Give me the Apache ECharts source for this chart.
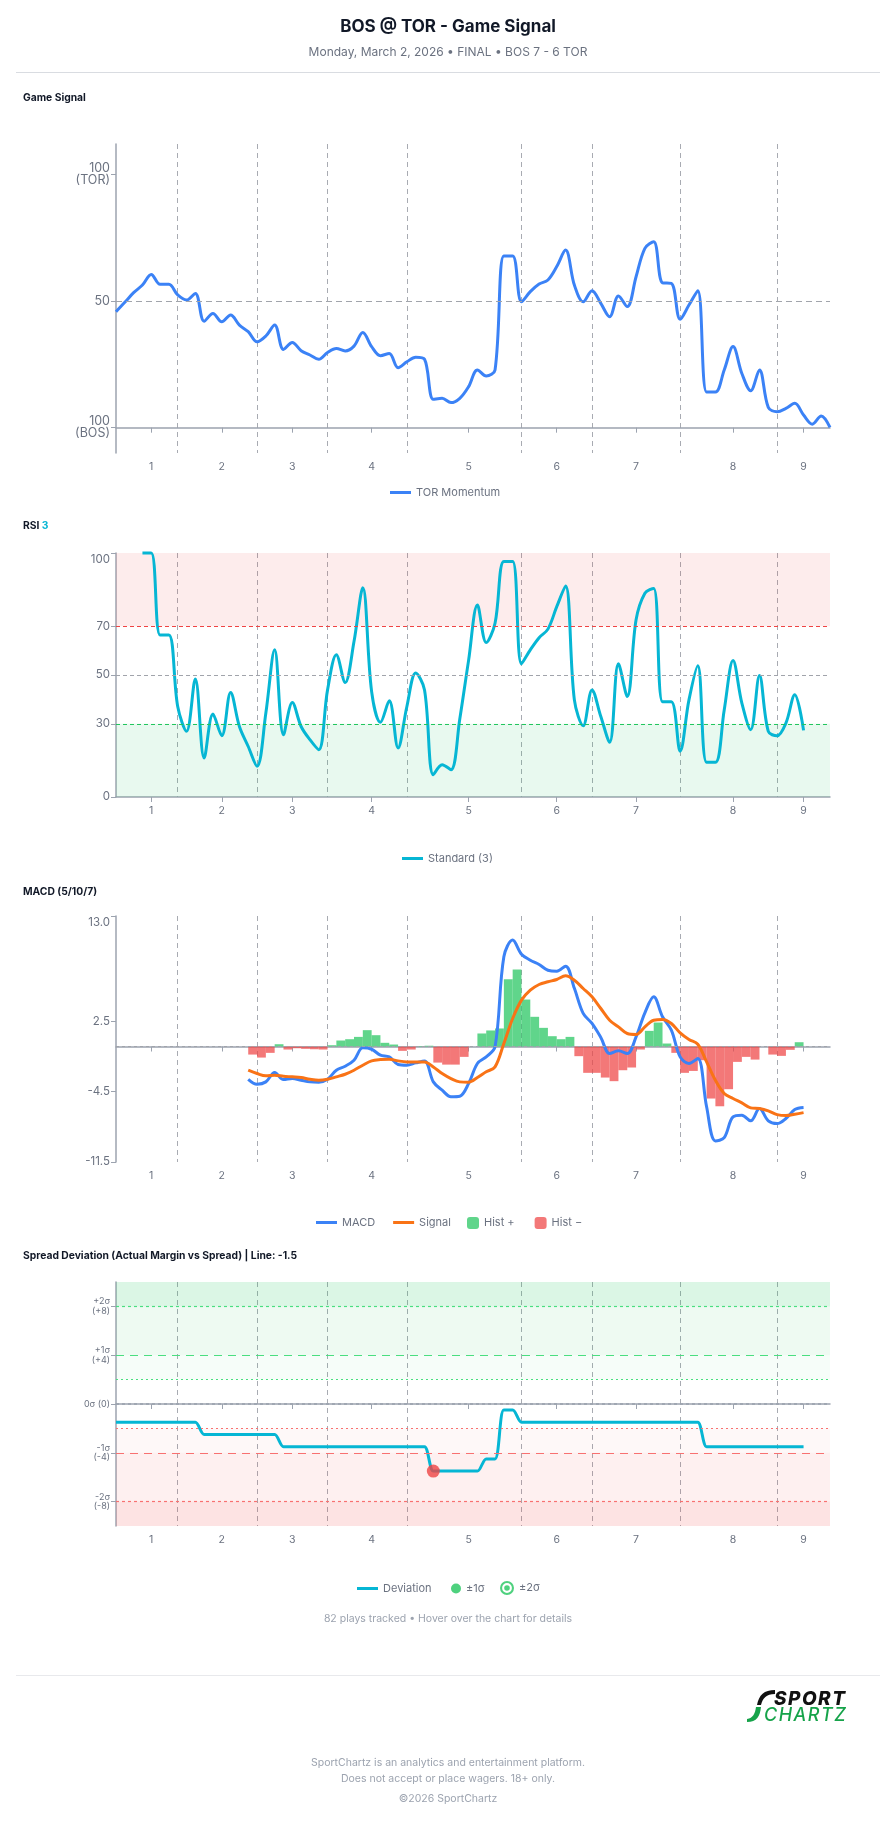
<!DOCTYPE html>
<html>
<head>
<meta charset="utf-8">
<title>BOS @ TOR - Game Signal</title>
<script src="https://cdn.jsdelivr.net/npm/echarts@6/dist/echarts.min.js"></script>
<style>
    body { margin: 0; background: #ffffff; font-family: Inter, 'Noto Sans', sans-serif; }
    #page { position: relative; width: 896px; height: 1824px; overflow: hidden; }
    #chart { position: absolute; left: 0; top: 0; width: 896px; height: 1824px; }
    .center { position: absolute; left: 0; width: 896px; text-align: center; }
    .title { top: 15px; font-size: 17px; line-height: 22px; font-weight: 700; color: #111827; }
    .subtitle { top: 44px; font-size: 12px; line-height: 16px; color: #6b7280; }
    .rule { position: absolute; left: 16px; width: 864px; height: 1px; }
    .note { top: 1611px; font-size: 10.5px; line-height: 16px; color: #9ca3af; }
    .foot { font-size: 10.5px; line-height: 14px; color: #9ca3af; }
    .logo { position: absolute; left: 746px; top: 1689px; width: 124px; height: 36px; }
    .logo svg { position: absolute; left: 0; top: 0; }
    .logo .sport { position: absolute; left: 28px; top: 1px; font-size: 19px; line-height: 18px; font-weight: 800; font-style: italic; color: #111111; letter-spacing: 1.5px; }
    .logo .chartz { position: absolute; left: 18px; top: 17px; font-size: 18px; line-height: 18px; font-weight: 500; font-style: italic; color: #16a34a; letter-spacing: 1.5px; }
</style>
</head>
<body>
<div id="page">
    <div id="chart"></div>
    <div class="center title">BOS @ TOR - Game Signal</div>
    <div class="center subtitle">Monday, March 2, 2026 • FINAL • BOS 7 - 6 TOR</div>
    <div class="rule" style="top:72px;background:#d9dce1"></div>

    <div class="center note">82 plays tracked • Hover over the chart for details</div>
    <div class="rule" style="top:1675px;background:#e8e9ec"></div>
    <div class="logo">
        <svg width="30" height="34" viewBox="0 0 30 34">
            <path d="M29 1 C18 1 13 6 11 16 L15 16 C17 9 20 5 29 5 Z" fill="#111111"/>
            <path d="M10 18 C9 25 7 29 1 30 L1 33 C11 33 14 27 15 18 Z" fill="#16a34a"/>
        </svg>
        <div class="sport">SPORT</div>
        <div class="chartz">CHARTZ</div>
    </div>
    <div class="center foot" style="top:1756px">SportChartz is an analytics and entertainment platform.</div>
    <div class="center foot" style="top:1772px">Does not accept or place wagers. 18+ only.</div>
    <div class="center foot" style="top:1792px">©2026 SportChartz</div>
</div>
<script>
const AXIS_COLOR = '#9ca3af';
const LABEL_COLOR = '#6b7280';
const BLUE = '#3b82f6';
const CYAN = '#06b6d4';
const ORANGE = '#f97316';
const GREEN = '#22c55e';
const RED = '#ef4444';

// x axis: one category per play, innings labelled at their middle play
const PLAY_COUNT = 82;
const PLAYS = Array.from({ length: PLAY_COUNT }, (_, i) => String(i));
const INNING_TICKS = [4, 12, 20, 29, 40, 50, 59, 70, 78];
const INNING_NAMES = ['1', '2', '3', '4', '5', '6', '7', '8', '9'];
const INNING_BREAKS = [7, 16, 24, 33, 46, 54, 64, 75];

// Game signal (0 = BOS 100, 100 = TOR 100)
const momentum = [
    45.8, 49.5, 53.3, 56.3, 60.5, 56.6, 56.6, 52.4, 50.4, 53,
    42, 45.1, 41.8, 44.5, 40.5, 37.9, 33.9, 36.2, 40.5, 30.9,
    33.6, 30.4, 28.7, 27, 29.7, 31.3, 30.3, 32.2, 37.6, 32,
    28.4, 29.3, 23.7, 26, 27.8, 27, 11.2, 11.6, 9.9, 11.6,
    16.2, 22.8, 20.4, 22.8, 67.8, 67.8, 49.7, 53.7, 56.7, 58.3,
    63.6, 70.1, 56.3, 49.7, 54.1, 49.1, 43.8, 52, 47.8, 59.6,
    70.8, 73.4, 57.2, 57, 42.8, 48.4, 54.1, 14.1, 14.1, 22.8,
    32, 21.4, 14.6, 22.8, 8, 6.3, 7.6, 9.6, 5, 1.4,
    4.6, 0.1
];

// RSI(3), starts at play 3
const RSI_START = 3;
const rsiValues = [
    100, 100, 66.4, 66.4, 37.1, 26.9, 48.4, 16, 34, 25.1,
    42.8, 28.9, 20.7, 12.6, 34.4, 60.3, 25.5, 38.7, 28.9, 23.5,
    19.4, 43.9, 58.3, 46.9, 63.7, 85.8, 43.2, 30.6, 39.4, 20.1,
    37.1, 50.8, 43.9, 9.1, 13.2, 11.2, 32, 56, 78.7, 63.3,
    71.2, 96.5, 96.5, 54.6, 60.3, 65.3, 68.8, 78, 86.5, 39.8,
    29.2, 43.9, 33, 22.4, 54.6, 41.2, 72.6, 83.5, 85.5, 39,
    39, 18.8, 39.8, 53.8, 14.2, 14.2, 35.7, 55.9, 38.5, 27.6,
    49.8, 26.9, 25.1, 30.3, 41.9, 27.3
];

// MACD (5/10/7), starts at play 15
const MACD_START = 15;
const macdValues = [
    -3.26, -3.75, -3.52, -2.59, -3.29, -3.19, -3.36, -3.52, -3.55, -3.26,
    -2.36, -1.96, -1.36, -0.13, -0.27, -0.86, -1.03, -1.79, -1.86, -1.63,
    -1.43, -3.52, -4.35, -5.0, -4.95, -3.69, -1.69, -1.03, -0.03, 8.94,
    10.6, 9.2, 8.6, 8.17, 7.6, 7.5, 8.0, 5.8, 3.3, 2.3,
    0.9, -0.7, -0.43, -0.7, 0.96, 3.36, 4.95, 2.96, 1.63, -1.03,
    -1.69, -1.2, -6.0, -9.4, -9.07, -7.0, -6.84, -7.4, -6.18, -7.4,
    -7.67, -7.17, -6.28, -6.08
];
const signalValues = [
    -2.36, -2.69, -2.92, -2.86, -2.96, -3.02, -3.09, -3.26, -3.36, -3.26,
    -3.02, -2.76, -2.36, -1.86, -1.43, -1.3, -1.26, -1.43, -1.53, -1.53,
    -1.53, -2.03, -2.69, -3.19, -3.52, -3.55, -3.09, -2.52, -2.03, 0.3,
    2.79, 4.62, 5.61, 6.18, 6.45, 6.68, 7.04, 6.6, 5.78, 4.95,
    3.79, 2.62, 1.96, 1.3, 1.2, 1.96, 2.62, 2.69, 2.29, 1.36,
    0.7, 0.23, -1.53, -3.36, -4.68, -5.18, -5.61, -6.11, -6.18, -6.41,
    -6.78, -6.88, -6.74, -6.58
];
// histogram bars fill the span between two plays
const histValues = [
    -0.8, -1.1, -0.63, 0.23, -0.3, -0.17, -0.23, -0.27, -0.3, 0.13,
    0.6, 0.73, 0.96, 1.63, 1.13, 0.37, 0.2, -0.43, -0.3, 0.05,
    0.08, -1.6, -1.8, -1.8, -1.03, 0, 1.3, 1.6, 1.8, 6.7,
    7.67, 4.68, 2.96, 1.86, 1.03, 0.73, 0.96, -0.96, -2.62, -2.62,
    -3.09, -3.45, -2.36, -2.09, -0.3, 1.56, 2.39, 0.3, -0.63, -2.62,
    -2.43, -1.36, -5.18, -5.95, -4.25, -1.53, -1.03, -1.3, 0, -0.8,
    -0.93, -0.33, 0.43
];

// Spread deviation, plays 0..78
const deviation = [
    -1.5, -1.5, -1.5, -1.5, -1.5, -1.5, -1.5, -1.5, -1.5, -1.5,
    -2.5, -2.5, -2.5, -2.5, -2.5, -2.5, -2.5, -2.5, -2.5,
    -3.5, -3.5, -3.5, -3.5, -3.5, -3.5, -3.5, -3.5, -3.5, -3.5,
    -3.5, -3.5, -3.5, -3.5, -3.5, -3.5, -3.5,
    -5.5, -5.5, -5.5, -5.5, -5.5, -5.5, -4.5, -4.5, -0.5, -0.5,
    -1.5, -1.5, -1.5, -1.5, -1.5, -1.5, -1.5, -1.5, -1.5, -1.5,
    -1.5, -1.5, -1.5, -1.5, -1.5, -1.5, -1.5, -1.5, -1.5, -1.5, -1.5,
    -3.5, -3.5, -3.5, -3.5, -3.5, -3.5, -3.5, -3.5, -3.5, -3.5, -3.5, -3.5
];
const sigmaEvents = [[36, -5.5]];
const SIGMA_TICKS = [-8, -4, 0, 4, 8];
const SIGMA_LABELS = ['-2σ\n(-8)', '-1σ\n(-4)', '0σ (0)', '+1σ\n(+4)', '+2σ\n(+8)'];

const RING_ICON = 'path://M10,0A10,10,0,1,1,10,20A10,10,0,1,1,10,0Z' +
    'M10,3A7,7,0,1,0,10,17A7,7,0,1,0,10,3Z' +
    'M10,6A4,4,0,1,1,10,14A4,4,0,1,1,10,6Z';

function pad(start, values, total) {
    const out = [];
    for (let i = 0; i < total; i++) {
        const j = i - start;
        out.push(j >= 0 && j < values.length ? values[j] : null);
    }
    return out;
}

const isInningTick = (idx) => INNING_TICKS.includes(idx);
const isInningBreak = (idx) => INNING_BREAKS.includes(idx);

function playAxis(gridIndex) {
    return {
        type: 'category',
        gridIndex: gridIndex,
        data: PLAYS,
        boundaryGap: false,
        axisLine: { lineStyle: { color: AXIS_COLOR, width: 1.5 } },
        axisTick: { interval: isInningTick, length: 5, lineStyle: { color: AXIS_COLOR } },
        axisLabel: {
            interval: isInningTick,
            formatter: (v) => INNING_NAMES[INNING_TICKS.indexOf(Number(v))],
            color: LABEL_COLOR,
            fontSize: 10.5,
            margin: 8
        },
        splitLine: {
            show: true,
            interval: isInningBreak,
            lineStyle: { color: '#a8abb2', type: [5, 4], width: 1 }
        }
    };
}

// the label at the top of an axis sits a little below its tick
function topLabel(text) {
    return '{top|' + text + '}';
}

function valueAxis(gridIndex, min, max, ticks, formatter, fontSize, lineHeight) {
    return {
        type: 'value',
        gridIndex: gridIndex,
        min: min,
        max: max,
        axisLine: { show: true, lineStyle: { color: AXIS_COLOR, width: 1.5 } },
        axisTick: { show: true, customValues: ticks, length: 5, lineStyle: { color: AXIS_COLOR } },
        axisLabel: {
            customValues: ticks,
            formatter: formatter,
            color: LABEL_COLOR,
            fontSize: fontSize,
            lineHeight: lineHeight,
            margin: 6,
            rich: {
                top: { fontSize: fontSize, color: LABEL_COLOR, padding: [13, 0, 0, 0] }
            }
        },
        splitLine: { show: false }
    };
}

function hLine(value, color, dash, width) {
    return { yAxis: value, lineStyle: { color: color, type: dash, width: width || 1 } };
}

function band(from, to, color) {
    return [{ yAxis: from, itemStyle: { color: color } }, { yAxis: to }];
}

const quietMark = { silent: true, symbol: 'none', label: { show: false } };

const legendText = { fontSize: 11, color: LABEL_COLOR };
const titleText = { fontSize: 10.3, fontWeight: 'bold', color: '#111827' };
const lineLegend = { padding: 0, itemWidth: 21, itemHeight: 3, icon: 'rect', textStyle: legendText, selectedMode: false };

const histPos = pad(MACD_START, histValues.map(v => v > 0 ? v : null), PLAY_COUNT - 1);
const histNeg = pad(MACD_START, histValues.map(v => v < 0 ? v : null), PLAY_COUNT - 1);

const option = {
    animation: false,
    textStyle: { fontFamily: 'Inter, "Noto Sans", sans-serif' },
    title: [
        { text: 'Game Signal', left: 23, top: 93, padding: 0, textStyle: titleText },
        {
            text: 'RSI {c|3}', left: 23, top: 521, padding: 0,
            textStyle: Object.assign({}, titleText, {
                rich: { c: { fontSize: 10.3, fontWeight: 'bold', color: CYAN } }
            })
        },
        { text: 'MACD (5/10/7)', left: 23, top: 887, padding: 0, textStyle: titleText },
        { text: 'Spread Deviation (Actual Margin vs Spread) | Line: -1.5', left: 23, top: 1251, padding: 0, textStyle: titleText }
    ],
    legend: [
        Object.assign({ data: ['TOR Momentum'], left: 390, top: 487 }, lineLegend),
        Object.assign({ data: ['Standard (3)'], left: 402, top: 853 }, lineLegend),
        Object.assign({ data: ['MACD', 'Signal'], left: 316, top: 1217, itemGap: 18 }, lineLegend),
        { data: ['Hist +', 'Hist −'], left: 467, top: 1217, padding: 0, itemGap: 20, itemWidth: 12, itemHeight: 12, icon: 'roundRect', textStyle: legendText, selectedMode: false },
        Object.assign({ data: ['Deviation'], left: 357, top: 1583 }, lineLegend),
        { data: ['±1σ'], left: 451, top: 1583, padding: 0, itemWidth: 10, itemHeight: 10, icon: 'circle', textStyle: legendText, selectedMode: false },
        { data: [{ name: '±2σ', icon: RING_ICON }], left: 500, top: 1581, padding: 0, itemWidth: 14, itemHeight: 14, textStyle: legendText, selectedMode: false }
    ],
    grid: [
        { left: 116, width: 714, top: 144, height: 309 },
        { left: 116, width: 714, top: 553, height: 244 },
        { left: 116, width: 714, top: 916, height: 246 },
        { left: 116, width: 714, top: 1282, height: 244 }
    ],
    xAxis: [
        playAxis(0),
        playAxis(1),
        playAxis(2),
        playAxis(3),
        // bands between plays for the histogram
        { type: 'category', gridIndex: 2, data: PLAYS.slice(1), boundaryGap: true, show: false }
    ],
    yAxis: [
        valueAxis(0, -10, 112, [0, 50, 100],
            v => v === 100 ? '100\n(TOR)' : v === 0 ? '100\n(BOS)' : String(v), 12.5, 12),
        valueAxis(1, 0, 100, [0, 30, 50, 70, 100],
            v => v === 100 ? topLabel('100') : String(v), 11.5, 14),
        valueAxis(2, -11.5, 13, [-11.5, -4.5, 2.5, 13],
            v => v === 13 ? topLabel('13.0') : v.toFixed(1), 11.5, 14),
        valueAxis(3, -10, 10, SIGMA_TICKS, v => SIGMA_LABELS[SIGMA_TICKS.indexOf(v)], 9, 9.5)
    ],
    series: [
        {
            name: 'TOR Momentum',
            type: 'line',
            xAxisIndex: 0,
            yAxisIndex: 0,
            data: momentum,
            smooth: 0.35,
            symbol: 'none',
            color: BLUE,
            lineStyle: { width: 3, color: BLUE },
            markLine: Object.assign({}, quietMark, {
                data: [hLine(50, '#a1a4ab', [6, 4])]
            })
        },
        {
            name: 'Standard (3)',
            type: 'line',
            xAxisIndex: 1,
            yAxisIndex: 1,
            data: pad(RSI_START, rsiValues, PLAY_COUNT),
            smooth: 0.35,
            symbol: 'none',
            clip: false,
            color: CYAN,
            lineStyle: { width: 3, color: CYAN },
            markArea: {
                silent: true,
                data: [
                    band(70, 100, 'rgba(239,68,68,0.10)'),
                    band(0, 30, 'rgba(34,197,94,0.10)')
                ]
            },
            markLine: Object.assign({}, quietMark, {
                data: [
                    hLine(70, RED, [4, 3]),
                    hLine(50, '#a1a4ab', [4, 3]),
                    hLine(30, GREEN, [4, 3])
                ]
            })
        },
        {
            name: 'MACD',
            type: 'line',
            xAxisIndex: 2,
            yAxisIndex: 2,
            data: pad(MACD_START, macdValues, PLAY_COUNT),
            smooth: 0.35,
            symbol: 'none',
            z: 4,
            color: BLUE,
            lineStyle: { width: 3, color: BLUE },
            markLine: Object.assign({}, quietMark, {
                data: [hLine(0, '#a1a4ab', [3, 3])]
            })
        },
        {
            name: 'Signal',
            type: 'line',
            xAxisIndex: 2,
            yAxisIndex: 2,
            data: pad(MACD_START, signalValues, PLAY_COUNT),
            smooth: 0.35,
            symbol: 'none',
            z: 5,
            color: ORANGE,
            lineStyle: { width: 3, color: ORANGE }
        },
        {
            name: 'Hist +',
            type: 'bar',
            xAxisIndex: 4,
            yAxisIndex: 2,
            data: histPos,
            barGap: '-100%',
            barCategoryGap: '0%',
            color: GREEN,
            itemStyle: { color: 'rgba(34,197,94,0.72)' },
            z: 2
        },
        {
            name: 'Hist −',
            type: 'bar',
            xAxisIndex: 4,
            yAxisIndex: 2,
            data: histNeg,
            barGap: '-100%',
            barCategoryGap: '0%',
            color: RED,
            itemStyle: { color: 'rgba(239,68,68,0.72)' },
            z: 2
        },
        {
            name: 'Deviation',
            type: 'line',
            xAxisIndex: 3,
            yAxisIndex: 3,
            data: deviation,
            smooth: 0.3,
            symbol: 'none',
            color: CYAN,
            lineStyle: { width: 3, color: CYAN },
            z: 4,
            markArea: {
                silent: true,
                data: [
                    band(8, 10, 'rgba(34,197,94,0.16)'),
                    band(4, 8, 'rgba(34,197,94,0.08)'),
                    band(2, 4, 'rgba(34,197,94,0.04)'),
                    band(-4, -2, 'rgba(239,68,68,0.04)'),
                    band(-8, -4, 'rgba(239,68,68,0.08)'),
                    band(-10, -8, 'rgba(239,68,68,0.15)')
                ]
            },
            markLine: Object.assign({}, quietMark, {
                data: [
                    hLine(8, '#4ade80', [3, 3], 1.2),
                    hLine(4, '#4ade80', [8, 6], 1.2),
                    hLine(2, '#4ade80', [2, 3], 1.2),
                    hLine(0, '#9ca3af', [3, 3], 1.6),
                    hLine(-2, '#f87171', [2, 3], 1.2),
                    hLine(-4, '#f87171', [8, 6], 1.2),
                    hLine(-8, '#f87171', [3, 3], 1.2)
                ]
            })
        },
        {
            name: '±1σ',
            type: 'scatter',
            xAxisIndex: 3,
            yAxisIndex: 3,
            symbolSize: 13,
            color: GREEN,
            z: 6,
            data: sigmaEvents.map(p => ({ value: p, itemStyle: { color: RED } }))
        },
        {
            name: '±2σ',
            type: 'scatter',
            xAxisIndex: 3,
            yAxisIndex: 3,
            symbolSize: 14,
            color: GREEN,
            data: []
        }
    ]
};

const myChart = echarts.init(document.getElementById('chart'));
myChart.setOption(option);
</script>
</body>
</html>
